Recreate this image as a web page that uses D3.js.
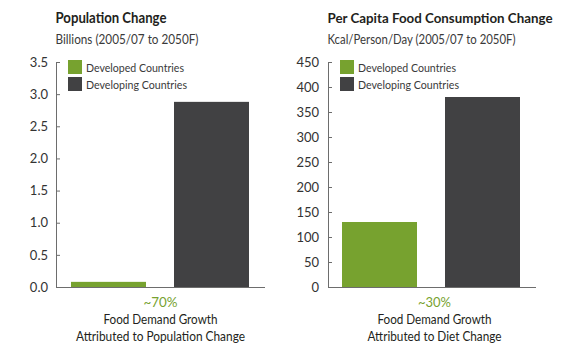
<!DOCTYPE html>
<html><head><meta charset="utf-8">
<script src="https://cdn.jsdelivr.net/npm/d3@7"></script>
<style>
body{margin:0;background:#fff;}
svg text{font-family:Lato, "Open Sans", sans-serif;}
</style></head>
<body><svg id="c" width="570" height="355"></svg>
<script>
const categories = ["Developed Countries", "Developing Countries"];
const populationValues = [0.08, 2.88];
const dietValues = [130, 380];
const popTicks = [0, 0.5, 1.0, 1.5, 2.0, 2.5, 3.0, 3.5];
const dietTicks = [0, 50, 100, 150, 200, 250, 300, 350, 400, 450];
const titles = ["Population Change", "Per Capita Food Consumption Change"];
const subtitles = ["Billions (2005/07 to 2050F)", "Kcal/Person/Day (2005/07 to 2050F)"];
const shares = ["~70%", "~30%"];
const captionLine1 = ["Food Demand Growth", "Food Demand Growth"];
const captionLine2 = ["Attributed to Population Change", "Attributed to Diet Change"];

const colors = ["#77a22f", "#414143"];
const green = "#77a22f";
const axisColor = "#6d6d6d";
const svg = d3.select("#c");

const panels = [
  {x0: 56, x1: 265, bx0: 71, bx1: 249, padLabel: 8, values: populationValues, ticks: popTicks, max: 3.5, fmt: d3.format(".1f"),
   capX: 160.5, titleSize: 14.5, wTitle: 111, wSub: 143, wLeg: [98, 101], wShare: 34, wCap1: 114, wCap2: 169},
  {x0: 328, x1: 536, bx0: 342, bx1: 520, padLabel: 9, values: dietValues, ticks: dietTicks, max: 450, fmt: d3.format("d"),
   capX: 434.5, titleSize: 13.2, wTitle: 225, wSub: 188, wLeg: [98, 101], wShare: 33, wCap1: 114, wCap2: 134}
];

const yTop = 62, yBot = 287;

function fit(sel, w) {
  return sel.attr("textLength", w).attr("lengthAdjust", "spacingAndGlyphs");
}

panels.forEach((p, i) => {
  const g = svg.append("g");
  const y = d3.scaleLinear().domain([0, p.max]).range([yBot, yTop]);
  const x = d3.scaleBand().domain(categories).range([p.bx0, p.bx1]).paddingInner(0.272).paddingOuter(0);

  // title & subtitle
  fit(g.append("text").attr("x", p.x0 - 0.5).attr("y", 23).attr("font-size", p.titleSize).attr("font-weight", "bold")
    .attr("fill", "#231f20").text(titles[i]), p.wTitle);
  fit(g.append("text").attr("x", p.x0 - 0.5).attr("y", 44).attr("font-size", 13).attr("fill", "#3a3a3a").text(subtitles[i]), p.wSub);

  // bars
  g.selectAll("rect.bar").data(p.values).join("rect").attr("class", "bar")
    .attr("x", (d, j) => x(categories[j])).attr("width", x.bandwidth())
    .attr("y", d => y(d)).attr("height", d => yBot - y(d))
    .attr("fill", (d, j) => colors[j]);

  // y axis
  const ax = d3.axisLeft(y).tickValues(p.ticks).tickFormat(p.fmt).tickSizeInner(-4).tickSizeOuter(0).tickPadding(p.padLabel);
  const ag = g.append("g").attr("transform", `translate(${p.x0},0)`).call(ax);
  ag.select(".domain").attr("stroke", axisColor);
  ag.selectAll(".tick line").attr("stroke", axisColor);
  ag.selectAll(".tick text").attr("font-size", 13).attr("fill", "#333").attr("font-family", "Lato, sans-serif");

  // x axis baseline
  g.append("line").attr("x1", p.x0).attr("x2", p.x1).attr("y1", yBot + 0.5).attr("y2", yBot + 0.5)
    .attr("stroke", axisColor).attr("stroke-width", 1);

  // legend
  const lx = p.x0 + 12;
  categories.forEach((c, j) => {
    g.append("rect").attr("x", lx).attr("y", 60 + j * 17).attr("width", 14).attr("height", 14).attr("fill", colors[j]);
    fit(g.append("text").attr("x", lx + 18).attr("y", 72 + j * 17).attr("font-size", 12).attr("fill", "#3a3a3a").text(c), p.wLeg[j]);
  });

  // caption
  const cx = p.capX;
  fit(g.append("text").attr("x", cx).attr("y", 307).attr("text-anchor", "middle").attr("font-size", 13.5).attr("fill", green).text(shares[i]), p.wShare);
  fit(g.append("text").attr("x", cx).attr("y", 324).attr("text-anchor", "middle").attr("font-size", 13.5).attr("fill", "#231f20").text(captionLine1[i]), p.wCap1);
  fit(g.append("text").attr("x", cx).attr("y", 341).attr("text-anchor", "middle").attr("font-size", 13.5).attr("fill", "#231f20").text(captionLine2[i]), p.wCap2);
});
</script></body></html>
